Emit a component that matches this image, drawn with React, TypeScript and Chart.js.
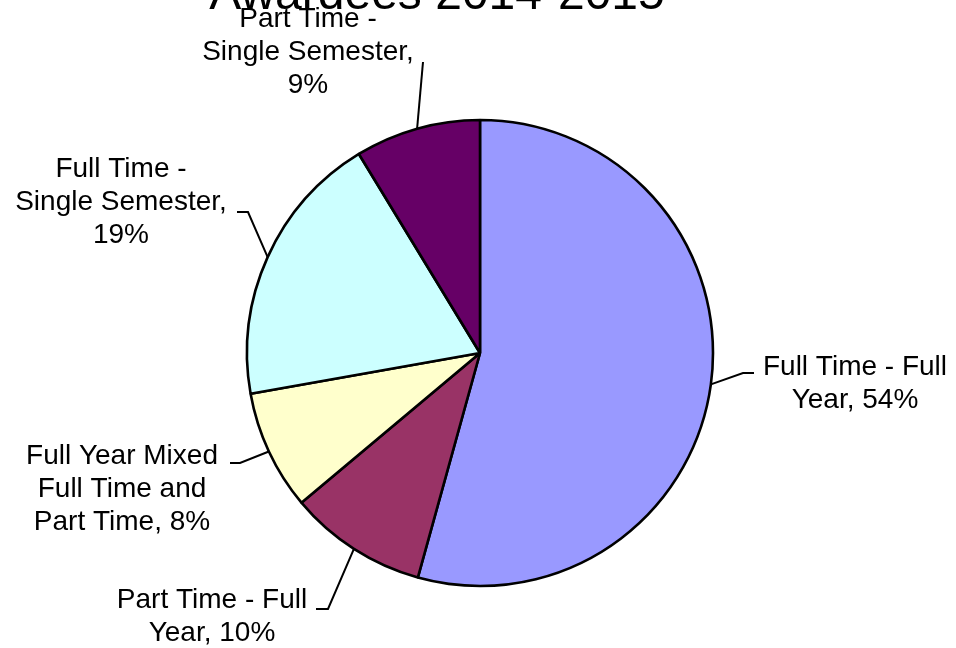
import React, { useEffect, useRef } from "react";
import { Chart, registerables } from "chart.js";

Chart.register(...registerables);

const TITLE = "Awardees 2014-2015";
const categories = [
  "Full Time - Full Year",
  "Part Time - Full Year",
  "Full Year Mixed Full Time and Part Time",
  "Full Time - Single Semester",
  "Part Time - Single Semester",
];
const values = [54.3, 9.6, 8.3, 19.1, 8.7];
const percentLabels = ["54%", "10%", "8%", "19%", "9%"];
const labelLines = [
  ["Full Time - Full", "Year, 54%"],
  ["Part Time - Full", "Year, 10%"],
  ["Full Year Mixed", "Full Time and", "Part Time, 8%"],
  ["Full Time -", "Single Semester,", "19%"],
  ["Part Time -", "Single Semester,", "9%"],
];
const colors = ["#9999FF", "#993366", "#FFFFCC", "#CCFFFF", "#660066"];

// label layout: text centre x, first baseline y, leader elbow, leader end
const labelLayout = [
  { cx: 855, by: 375, elbow: [743, 373], end: [754, 373] },
  { cx: 212, by: 608, elbow: [328, 609], end: [316, 609] },
  { cx: 122, by: 464, elbow: [240, 463], end: [230, 463] },
  { cx: 121, by: 177, elbow: [248, 212], end: [237, 212] },
  { cx: 308, by: 27, elbow: [423, 62], end: [423, 62] },
];

const FONT = '28px "Liberation Sans", Arial, sans-serif';
const LINE_H = 33;

const labelPlugin = {
  id: "pieLabels",
  afterDraw(chart: any) {
    const ctx = chart.ctx;
    const meta = chart.getDatasetMeta(0);
    ctx.save();
    // title (partially cut at top as in reference)
    ctx.fillStyle = "#000";
    ctx.font = '48px "Liberation Sans", Arial, sans-serif';
    ctx.textAlign = "center";
    ctx.textBaseline = "alphabetic";
    ctx.fillText(TITLE, 437, 9);

    meta.data.forEach((arc: any, i: number) => {
      const p = arc.getProps(["x", "y", "startAngle", "endAngle", "outerRadius"], true);
      const mid = (p.startAngle + p.endAngle) / 2;
      const sx = p.x + Math.cos(mid) * p.outerRadius;
      const sy = p.y + Math.sin(mid) * p.outerRadius;
      const L = labelLayout[i];
      ctx.strokeStyle = "#000";
      ctx.lineWidth = 2;
      ctx.beginPath();
      ctx.moveTo(sx, sy);
      ctx.lineTo(L.elbow[0], L.elbow[1]);
      ctx.lineTo(L.end[0], L.end[1]);
      ctx.stroke();
      ctx.fillStyle = "#000";
      ctx.font = FONT;
      ctx.textAlign = "center";
      labelLines[i].forEach((line, j) => {
        ctx.fillText(line, L.cx, L.by + j * LINE_H);
      });
    });
    ctx.restore();
  },
};

export default function App() {
  const ref = useRef<HTMLCanvasElement>(null);
  useEffect(() => {
    document.body.style.margin = "0";
    const chart = new Chart(ref.current as HTMLCanvasElement, {
      type: "pie",
      data: {
        labels: categories,
        datasets: [
          {
            data: values,
            backgroundColor: colors,
            borderColor: "#000",
            borderWidth: 2.6,
          },
        ],
      },
      options: {
        animation: false,
        responsive: false,
        radius: 233,
        layout: { padding: { left: 247, right: 243, top: 120, bottom: 62 } },
        plugins: {
          legend: { display: false },
          tooltip: { enabled: false },
          title: { display: false },
        },
      } as any,
      plugins: [labelPlugin],
    });
    return () => chart.destroy();
  }, []);
  return (
    <div style={{ position: "absolute", left: 0, top: 0, width: 956, height: 648, background: "#fff" }}>
      <canvas ref={ref} width={956} height={648} />
    </div>
  );
}
